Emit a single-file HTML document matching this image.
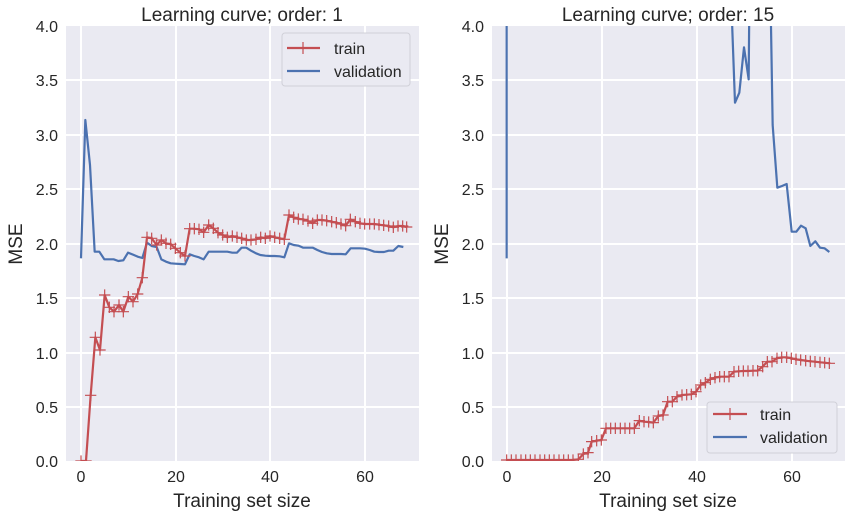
<!DOCTYPE html>
<html><head><style>body{margin:0;background:#fff}svg{display:block}</style></head><body>
<svg width="852" height="518" xmlns="http://www.w3.org/2000/svg" font-family="Liberation Sans, sans-serif">
<defs>
<marker id="p" markerUnits="userSpaceOnUse" markerWidth="40" markerHeight="40" refX="0" refY="0" viewBox="-20 -20 40 40" overflow="visible"><path d="M-17 0H17M0 -17V17" stroke="#c44e52" stroke-width="3.6"/></marker>
<clipPath id="cl"><rect x="66" y="26" width="353" height="435"/></clipPath>
<clipPath id="cr"><rect x="492" y="26" width="353" height="435"/></clipPath>
</defs>
<rect x="66" y="26" width="353" height="435" fill="#eaeaf2"/>
<rect x="492" y="26" width="353" height="435" fill="#eaeaf2"/>
<g stroke="#fff" stroke-width="2">
<path d="M66 407H419M66 353H419M66 298H419M66 244H419M66 189H419M66 135H419M66 80H419M81 26V461M176 26V461M270 26V461M365 26V461"/>
<path d="M492 407H845M492 353H845M492 298H845M492 244H845M492 189H845M492 135H845M492 80H845M507 26V461M602 26V461M697 26V461M792 26V461"/>
</g>
<g clip-path="url(#cl)"><g transform="translate(60,100) scale(0.33333)" fill="none" stroke-width="2.2" stroke-linejoin="round">
<polyline vector-effect="non-scaling-stroke" stroke="#4c72b0" points="63,475 76,60 90,195 104,455 118,455 133,478 147,478 161,478 175,483 190,481 204,458 219,464 233,470 247,474 261,428 275,438 290,441 304,478 318,485 332,490 346,491 361,492 375,493 389,463 403,468 417,472 431,478 446,455 460,455 474,455 488,455 502,455 517,458 531,458 545,443 559,443 573,452 588,460 601,465 616,467 630,468 644,468 659,469 673,472 687,430 701,435 715,437 729,443 744,443 758,443 772,450 786,456 800,460 815,462 829,462 843,462 857,463 872,445 886,445 900,445 915,446 929,450 943,455 957,456 972,456 986,452 1000,452 1015,438 1030,441"/>
<polyline vector-effect="non-scaling-stroke" stroke="#c44e52" marker-start="url(#p)" marker-mid="url(#p)" marker-end="url(#p)" points="63,1083 78,1083 92,886 106,712 120,750 134,585 148,622 162,635 177,615 190,635 205,590 219,605 233,582 247,533 261,412 275,415 290,435 304,420 318,430 332,433 346,445 361,458 375,468 389,386 403,386 417,388 431,397 446,375 460,385 474,398 488,405 502,412 517,408 531,412 545,415 559,420 573,420 588,418 602,412 616,415 630,408 644,412 659,415 673,418 687,345 701,352 715,357 729,358 744,363 758,370 772,360 786,360 800,362 815,365 829,368 843,372 857,377 871,358 886,365 900,370 914,372 929,372 943,372 957,374 971,376 986,378 1000,382 1014,378 1028,378 1040,381"/>
</g></g>
<g clip-path="url(#cr)"><g transform="translate(490,0) scale(0.33333)" fill="none" stroke-width="2.2" stroke-linejoin="round">
<polyline vector-effect="non-scaling-stroke" stroke="#4c72b0" points="50,775 50,-200 64,-300 700,-300 720,-100 735,308 748,278 762,142 776,238 779,-100 840,-100 848,375 862,563 876,558 890,552 905,695 919,695 933,677 947,685 961,738 976,724 990,743 1004,745 1018,756"/>
<polyline vector-effect="non-scaling-stroke" stroke="#c44e52" marker-start="url(#p)" marker-mid="url(#p)" marker-end="url(#p)" points="50,1380 64,1380 78,1380 93,1380 107,1380 121,1380 135,1380 150,1380 164,1380 178,1380 192,1380 207,1380 221,1380 235,1380 249,1380 265,1378 280,1362 294,1358 305,1325 320,1322 334,1320 348,1285 362,1285 376,1285 391,1285 405,1285 419,1285 433,1285 448,1262 462,1265 476,1266 490,1268 505,1248 519,1245 533,1205 547,1205 561,1190 576,1185 590,1184 604,1183 618,1175 632,1155 646,1148 661,1138 675,1133 689,1130 703,1130 717,1130 732,1115 746,1114 760,1113 774,1113 789,1112 803,1112 818,1100 832,1085 846,1085 861,1075 875,1072 890,1072 904,1075 918,1078 932,1080 947,1082 961,1084 975,1085 990,1087 1004,1088 1018,1090"/>
</g></g>
<g font-size="16" fill="#262626">
<g text-anchor="end"><text x="58" y="467">0.0</text><text x="58" y="413">0.5</text><text x="58" y="359">1.0</text><text x="58" y="304">1.5</text><text x="58" y="250">2.0</text><text x="58" y="195">2.5</text><text x="58" y="141">3.0</text><text x="58" y="86">3.5</text><text x="58" y="32">4.0</text>
<text x="484" y="467">0.0</text><text x="484" y="413">0.5</text><text x="484" y="359">1.0</text><text x="484" y="304">1.5</text><text x="484" y="250">2.0</text><text x="484" y="195">2.5</text><text x="484" y="141">3.0</text><text x="484" y="86">3.5</text><text x="484" y="32">4.0</text></g>
<g text-anchor="middle"><text x="81" y="482">0</text><text x="176" y="482">20</text><text x="270" y="482">40</text><text x="365" y="482">60</text>
<text x="507" y="482">0</text><text x="602" y="482">20</text><text x="697" y="482">40</text><text x="792" y="482">60</text></g>
</g>
<g font-size="19" fill="#262626" text-anchor="middle">
<text x="242" y="21">Learning curve; order: 1</text><text x="668" y="21">Learning curve; order: 15</text>
<text x="242" y="507">Training set size</text><text x="668" y="507">Training set size</text>
<text transform="translate(22,244) rotate(-90)">MSE</text><text transform="translate(448,244) rotate(-90)">MSE</text>
</g>
<g font-size="16" fill="#262626">
<rect x="282" y="33" width="128" height="53" rx="3" fill="#eaeaf2" stroke="#d0d0d8"/>
<path d="M287 48H320" stroke="#c44e52" stroke-width="2.2"/><path d="M303 42V54" stroke="#c44e52" stroke-width="1.2"/>
<path d="M287 71H320" stroke="#4c72b0" stroke-width="2.2"/>
<text x="334" y="54">train</text><text x="334" y="77">validation</text>
<rect x="707" y="402" width="130" height="51" rx="3" fill="#eaeaf2" stroke="#d0d0d8"/>
<path d="M713 414H747" stroke="#c44e52" stroke-width="2.2"/><path d="M730 408V420" stroke="#c44e52" stroke-width="1.2"/>
<path d="M713 437H747" stroke="#4c72b0" stroke-width="2.2"/>
<text x="760" y="420">train</text><text x="760" y="443">validation</text>
</g>
</svg>
</body></html>
